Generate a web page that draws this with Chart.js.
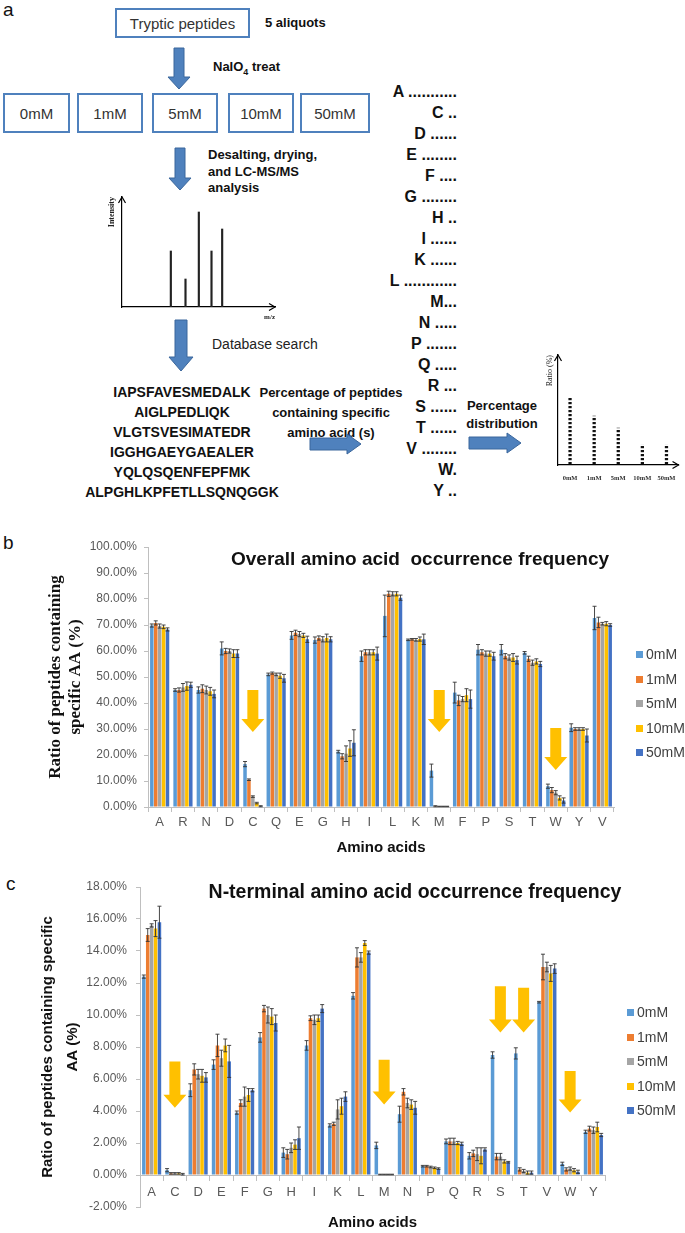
<!DOCTYPE html>
<html>
<head>
<meta charset="utf-8">
<script src="https://cdn.jsdelivr.net/npm/chart.js@4.4.0/dist/chart.umd.min.js"></script>
<style>
  html, body { margin: 0; padding: 0; background: #fff; }
  #page { position: relative; width: 685px; height: 1233px; overflow: hidden; font-family: 'Liberation Sans', Arial, sans-serif; color: #111; }
  .abs { position: absolute; white-space: pre; }
  .box { position: absolute; box-sizing: border-box; border: 2px solid #4f81bd; display: flex; align-items: center; justify-content: center; font-size: 15px; color: #333; }
  .b13 { font-size: 13px; font-weight: bold; }
  canvas { position: absolute; }
  .leg { position: absolute; font-size: 14px; color: #404040; line-height: 16px; }
  .leg i { display: inline-block; width: 7px; height: 7px; margin-right: 3px; vertical-align: 1px; }
</style>
</head>
<body>
<div id="page">

  <!-- panel a : workflow -->
  <div class="abs" style="left:3px;top:-1px;font-size:19px;">a</div>
  <div class="box" style="left:115px;top:8px;width:135px;height:30px;">Tryptic peptides</div>
  <div class="abs b13" style="left:265px;top:15px;">5 aliquots</div>
  <div class="abs b13" style="left:213px;top:59px;">NaIO<sub style="font-size:9px">4</sub> treat</div>

  <div class="box" style="left:3px;top:93px;width:67px;height:40px;">0mM</div>
  <div class="box" style="left:77px;top:93px;width:66px;height:40px;">1mM</div>
  <div class="box" style="left:152px;top:93px;width:66px;height:40px;">5mM</div>
  <div class="box" style="left:228px;top:93px;width:66px;height:40px;">10mM</div>
  <div class="box" style="left:300px;top:93px;width:70px;height:40px;">50mM</div>

  <div class="abs b13" style="left:208px;top:147px;line-height:16.5px;">Desalting, drying,
and LC-MS/MS
analysis</div>
  <div class="abs" style="left:212px;top:336px;font-size:14px;color:#222;">Database search</div>

  <div class="abs" style="left:82px;top:382px;width:200px;text-align:center;font-size:14px;font-weight:bold;line-height:20px;">IAPSFAVESMEDALK
AIGLPEDLIQK
VLGTSVESIMATEDR
IGGHGAEYGAEALER
YQLQSQENFEPFMK
ALPGHLKPFETLLSQNQGGK</div>

  <div class="abs b13" style="left:251px;top:383px;width:160px;text-align:center;line-height:20px;">Percentage of peptides
containing specific
amino acid (s)</div>

  <div class="abs" id="aaList" style="left:347px;top:81px;width:110px;text-align:right;font-size:16px;font-weight:bold;line-height:21px;"></div>

  <div class="abs b13" style="left:452px;top:397px;width:100px;text-align:center;line-height:18px;">Percentage
distribution</div>

  <svg class="abs" width="685" height="500" style="left:0;top:0;">
    <g fill="#4f81bd" stroke="#3b679c" stroke-width="1">
      <polygon points="174,48 184,48 184,77 190,77 179,89 168,77 174,77"/>
      <polygon points="175,148 185,148 185,178 191,178 180,190 169,178 175,178"/>
      <polygon points="175,320 187,320 187,357 193,357 181,371 169,357 175,357"/>
      <polygon points="310,438 347,438 347,434 361,444 347,454 347,450 310,450"/>
      <polygon points="469,437 507,437 507,433 521,443 507,453 507,449 469,449"/>
    </g>
  </svg>

  <canvas id="spectrum" width="185" height="135" style="left:100px;top:190px;"></canvas>
  <canvas id="distrib" width="145" height="140" style="left:540px;top:350px;"></canvas>

  <!-- panel b -->
  <div class="abs" style="left:3px;top:532px;font-size:19px;">b</div>
  <canvas id="chartB" width="685" height="365" style="left:0;top:500px;"></canvas>
  <div class="abs" style="left:170px;top:548px;width:500px;text-align:center;font-size:19px;font-weight:bold;">Overall amino acid  occurrence frequency</div>
  <div class="leg" id="legB" style="left:636px;top:646px;"></div>

  <!-- panel c -->
  <div class="abs" style="left:6px;top:873px;font-size:19px;">c</div>
  <canvas id="chartC" width="685" height="368" style="left:0;top:865px;"></canvas>
  <div class="abs" style="left:165px;top:880px;width:500px;text-align:center;font-size:19.5px;font-weight:bold;">N-terminal amino acid occurrence frequency</div>
  <div class="leg" id="legC" style="left:627px;top:1004px;"></div>
</div>

<script>
// ---- data ----
var concLabels = ['0mM', '1mM', '5mM', '10mM', '50mM'];
var seriesColors = ['#5b9bd5', '#ed7d31', '#a5a5a5', '#ffc000', '#4472c4'];

// panel a schematic
var aaDots = ['A ...........', 'C ..', 'D ......', 'E ........', 'F ....', 'G ........', 'H ..', 'I ......',
  'K ......', 'L ............', 'M...', 'N .....', 'P .......', 'Q .....', 'R ...', 'S ......', 'T ......',
  'V ........', 'W.', 'Y ..'];
var specMz = [35, 57, 77, 96, 112];
var specIntensity = [56, 28, 95, 56, 78];
var distribValues = [67, 49, 37, 20, 20];

// panel b : overall occurrence (%)
var overallAA = ['A', 'R', 'N', 'D', 'C', 'Q', 'E', 'G', 'H', 'I', 'L', 'K', 'M', 'F', 'P', 'S', 'T', 'W', 'Y', 'V'];
var overall0  = [69.8, 45.0, 45.0, 61.0, 16.5, 51.0, 66.0, 64.2, 21.3, 58.0, 73.5, 64.3, 14.0, 44.0, 60.5, 60.5, 59.3, 8.0, 30.5, 72.7];
var overall1  = [70.8, 45.0, 45.5, 60.0, 10.5, 51.5, 67.0, 65.0, 19.5, 59.5, 82.0, 64.5, 0.3, 41.0, 59.5, 58.0, 57.0, 6.5, 30.0, 71.0];
var overall5  = [69.6, 46.0, 45.0, 60.0, 4.0, 51.0, 66.5, 64.5, 20.5, 59.5, 82.0, 64.3, 0.2, 41.5, 59.0, 57.5, 55.5, 5.5, 30.0, 70.5];
var overall10 = [69.3, 46.5, 44.5, 59.0, 1.5, 50.5, 66.0, 65.0, 22.5, 59.5, 82.0, 64.6, 0.2, 43.0, 59.0, 57.5, 56.0, 3.5, 30.0, 70.5];
var overall50 = [68.3, 47.0, 43.5, 59.0, 0.3, 49.5, 64.5, 64.5, 24.7, 59.0, 80.5, 64.5, 0.2, 41.5, 58.0, 56.5, 55.0, 2.5, 27.5, 70.0];
var overallErr0  = [0.6, 0.5, 1.2, 2.5, 1.0, 0.5, 1.5, 1.2, 0.5, 2.0, 8.0, 0.3, 2.5, 4.0, 2.0, 2.0, 0.5, 0.8, 1.5, 4.5];
var overallErr1  = [0.8, 0.8, 1.5, 1.0, 0.3, 0.4, 1.0, 0.8, 1.0, 1.0, 1.0, 0.3, 0.2, 2.0, 1.0, 1.0, 1.0, 1.0, 0.5, 2.0];
var overallErr5  = [0.8, 1.5, 1.5, 0.8, 0.3, 0.5, 1.0, 1.0, 3.0, 1.0, 0.8, 0.5, 0.1, 1.0, 1.0, 1.0, 1.0, 0.8, 0.5, 0.5];
var overallErr10 = [0.7, 1.6, 1.5, 1.5, 0.3, 1.0, 0.8, 1.5, 3.0, 1.0, 0.8, 0.8, 0.1, 2.5, 1.0, 1.5, 1.0, 0.8, 0.5, 0.8];
var overallErr50 = [0.6, 1.0, 1.5, 1.5, 0.2, 1.5, 1.2, 1.0, 5.0, 2.5, 1.0, 2.0, 0.1, 3.5, 1.5, 1.5, 1.0, 1.0, 2.5, 0.5];
// highlighted drops: [amino acid, arrow top %, arrow tip %]
var overallMarks = [['C', 45, 28.8], ['M', 45, 28.8], ['W', 30.4, 14.2]];

// panel c : N-terminal occurrence (%)
var ntermAA = ['A', 'C', 'D', 'E', 'F', 'G', 'H', 'I', 'K', 'L', 'M', 'N', 'P', 'Q', 'R', 'S', 'T', 'V', 'W', 'Y'];
var nterm0  = [12.4, 0.30, 5.3, 6.9, 3.9, 8.6, 1.4, 8.1, 3.1, 11.2, 1.85, 3.8, 0.55, 2.1, 1.2, 7.5, 7.6, 10.8, 0.7, 2.7];
var nterm1  = [15.0, 0.10, 6.6, 8.1, 4.5, 10.4, 1.3, 9.8, 3.2, 13.6, 0.03, 5.2, 0.55, 2.1, 1.35, 1.15, 0.35, 13.0, 0.35, 2.9];
var nterm5  = [15.6, 0.10, 6.3, 7.3, 4.9, 10.0, 1.7, 9.7, 4.1, 13.6, 0.03, 4.5, 0.50, 2.1, 1.3, 1.15, 0.25, 13.0, 0.40, 2.8];
var nterm10 = [15.4, 0.10, 6.2, 8.1, 5.0, 9.9, 1.9, 9.8, 4.3, 14.5, 0.03, 4.4, 0.45, 2.0, 1.2, 0.85, 0.15, 12.6, 0.30, 3.0];
var nterm50 = [15.8, 0.05, 6.1, 7.1, 5.3, 9.5, 2.3, 10.4, 4.9, 13.9, 0.03, 4.2, 0.40, 1.95, 1.6, 0.80, 0.15, 12.9, 0.20, 2.5];
var ntermErr0  = [0.1, 0.1, 0.4, 0.3, 0.1, 0.3, 0.3, 0.3, 0.1, 0.2, 0.2, 0.5, 0.05, 0.15, 0.2, 0.2, 0.35, 0.05, 0.1, 0.1];
var ntermErr1  = [0.4, 0.05, 0.35, 0.7, 0.2, 0.2, 0.3, 0.15, 0.1, 0.6, 0.02, 0.2, 0.05, 0.2, 0.2, 0.2, 0.1, 0.8, 0.1, 0.15];
var ntermErr5  = [0.1, 0.05, 0.3, 0.5, 0.6, 0.5, 0.3, 0.3, 0.6, 0.3, 0.02, 0.3, 0.05, 0.2, 0.4, 0.2, 0.1, 0.3, 0.1, 0.2];
var ntermErr10 = [0.5, 0.05, 0.4, 0.4, 0.4, 0.5, 0.3, 0.2, 0.5, 0.15, 0.02, 0.3, 0.05, 0.1, 0.5, 0.1, 0.1, 0.5, 0.1, 0.3];
var ntermErr50 = [1.0, 0.05, 0.3, 1.0, 0.1, 0.5, 0.7, 0.25, 0.3, 0.1, 0.02, 0.4, 0.05, 0.1, 0.1, 0.05, 0.1, 0.3, 0.1, 0.1];
var ntermMarks = [['C', 7.1, 4.2], ['M', 7.2, 4.4], ['S', 11.8, 8.9], ['T', 11.7, 8.9], ['W', 6.5, 3.9]];

Chart.defaults.font.family = "'Liberation Sans', Arial, sans-serif";
Chart.defaults.animation = false;

// amino acid list in panel a
document.getElementById('aaList').textContent = aaDots.join('\n');

// legends
['legB', 'legC'].forEach(function (id) {
    var html = '';
    concLabels.forEach(function (c, i) {
        html += '<div style="height:24.5px"><i style="background:' + seriesColors[i] + '"></i>' + c + '</div>';
    });
    document.getElementById(id).innerHTML = html;
});

// error bars
var errorBars = {
    id: 'errorBars',
    afterDatasetsDraw: function (chart) {
        var ctx = chart.ctx, y = chart.scales.y;
        ctx.save();
        ctx.strokeStyle = '#333';
        ctx.lineWidth = 0.9;
        chart.data.datasets.forEach(function (ds, i) {
            chart.getDatasetMeta(i).data.forEach(function (bar, j) {
                var v = ds.data[j], e = ds.errors[j];
                var top = y.getPixelForValue(v + e), bot = y.getPixelForValue(v - e);
                ctx.beginPath();
                ctx.moveTo(bar.x, top); ctx.lineTo(bar.x, bot);
                ctx.moveTo(bar.x - 2, top); ctx.lineTo(bar.x + 2, top);
                ctx.moveTo(bar.x - 2, bot); ctx.lineTo(bar.x + 2, bot);
                ctx.stroke();
            });
        });
        ctx.restore();
    }
};

// yellow arrows pointing at the drops
function dropArrows(marks) {
    return {
        id: 'dropArrows',
        afterDatasetsDraw: function (chart) {
            var ctx = chart.ctx, x = chart.scales.x, y = chart.scales.y;
            ctx.save();
            ctx.fillStyle = '#ffc000';
            marks.forEach(function (m) {
                var cx = x.getPixelForValue(chart.data.labels.indexOf(m[0]));
                var t = y.getPixelForValue(m[1]), b = y.getPixelForValue(m[2]);
                var w = 5.5, hw = 11.5, hl = 13;
                ctx.beginPath();
                ctx.moveTo(cx - w, t); ctx.lineTo(cx + w, t); ctx.lineTo(cx + w, b - hl);
                ctx.lineTo(cx + hw, b - hl); ctx.lineTo(cx, b); ctx.lineTo(cx - hw, b - hl);
                ctx.lineTo(cx - w, b - hl); ctx.closePath();
                ctx.fill();
            });
            ctx.restore();
        }
    };
}

function makeSets(values, errors) {
    return values.map(function (v, i) {
        return {
            label: concLabels[i],
            data: v,
            errors: errors[i],
            backgroundColor: seriesColors[i],
            categoryPercentage: 0.84,
            barPercentage: 0.9
        };
    });
}

var tickFont = { size: 12 };
var gray = '#595959';

// Panel b
new Chart(document.getElementById('chartB'), {
    type: 'bar',
    data: {
        labels: overallAA,
        datasets: makeSets([overall0, overall1, overall5, overall10, overall50],
            [overallErr0, overallErr1, overallErr5, overallErr10, overallErr50])
    },
    options: {
        responsive: false,
        layout: { padding: { top: 47, right: 71, left: 0, bottom: 0 } },
        plugins: { legend: { display: false }, tooltip: { enabled: false } },
        scales: {
            x: {
                grid: { drawOnChartArea: false, tickLength: 5, color: '#bfbfbf' },
                border: { color: '#bfbfbf' },
                ticks: { font: { size: 13 }, color: gray, padding: 3 },
                title: { display: true, text: 'Amino acids', color: '#111', font: { size: 15, weight: 'bold' }, padding: { top: 0, bottom: 8 } },
                afterFit: function (s) { s.height = 58; }
            },
            y: {
                min: 0, max: 100,
                grid: { drawOnChartArea: false, tickLength: 4, color: '#bfbfbf' },
                border: { color: '#bfbfbf' },
                ticks: { stepSize: 10, font: tickFont, color: gray, padding: 7,
                    callback: function (v) { return v.toFixed(2) + '%'; } },
                title: { display: true, text: ['Ratio of peptides containing', 'specific AA (%)'], color: '#111',
                    font: { family: "'Liberation Serif', 'Times New Roman', serif", size: 17, weight: 'bold', lineHeight: 1.2 },
                    padding: { top: 45, bottom: 0 } },
                afterFit: function (s) { s.width = 148; }
            }
        }
    },
    plugins: [errorBars, dropArrows(overallMarks)]
});

// Panel c
new Chart(document.getElementById('chartC'), {
    type: 'bar',
    data: {
        labels: ntermAA,
        datasets: makeSets([nterm0, nterm1, nterm5, nterm10, nterm50],
            [ntermErr0, ntermErr1, ntermErr5, ntermErr10, ntermErr50])
    },
    options: {
        responsive: false,
        layout: { padding: { top: 22, right: 80, left: 0, bottom: 0 } },
        plugins: { legend: { display: false }, tooltip: { enabled: false } },
        scales: {
            x: {
                position: { y: 0 },
                grid: { drawOnChartArea: false, tickLength: 5, color: '#bfbfbf' },
                border: { color: '#bfbfbf' },
                ticks: { font: { size: 13 }, color: gray, padding: 5 }
            },
            x2: {
                axis: 'x', type: 'category', position: 'bottom', labels: ntermAA,
                grid: { display: false, drawTicks: false },
                border: { display: false },
                ticks: { display: false },
                title: { display: true, text: 'Amino acids', color: '#111', font: { size: 15, weight: 'bold' }, padding: { top: 0, bottom: 1 } },
                afterFit: function (s) { s.height = 26; }
            },
            y: {
                min: -2, max: 18,
                grid: { drawOnChartArea: false, tickLength: 4, color: '#bfbfbf' },
                border: { color: '#bfbfbf' },
                ticks: { stepSize: 2, font: tickFont, color: gray, padding: 9,
                    callback: function (v) { return v.toFixed(2) + '%'; } },
                title: { display: true, text: ['Ratio of peptides containing specific', 'AA (%)'], color: '#111',
                    font: { size: 15, weight: 'bold', lineHeight: '25px' },
                    padding: { top: 35.5, bottom: 0 } },
                afterFit: function (s) { s.width = 140; }
            }
        }
    },
    plugins: [errorBars, dropArrows(ntermMarks)]
});

// arrow heads on the little schematic axes
var axisHeads = {
    id: 'axisHeads',
    afterDraw: function (chart) {
        var a = chart.chartArea, ctx = chart.ctx;
        ctx.save();
        ctx.strokeStyle = '#000';
        ctx.lineWidth = 1.2;
        ctx.beginPath();
        ctx.moveTo(a.left - 3.5, a.top + 6); ctx.lineTo(a.left, a.top); ctx.lineTo(a.left + 3.5, a.top + 6);
        ctx.moveTo(a.right - 6, a.bottom - 3.5); ctx.lineTo(a.right, a.bottom); ctx.lineTo(a.right - 6, a.bottom + 3.5);
        ctx.stroke();
        ctx.restore();
    }
};
var serif = "'Liberation Serif', 'Times New Roman', serif";

// MS spectrum sketch
new Chart(document.getElementById('spectrum'), {
    type: 'bar',
    data: {
        datasets: [{
            data: specMz.map(function (m, i) { return { x: m, y: specIntensity[i] }; }),
            backgroundColor: '#222',
            barThickness: 1.5
        }]
    },
    options: {
        responsive: false,
        layout: { padding: { top: 7, right: 10, left: 0, bottom: 0 } },
        plugins: { legend: { display: false }, tooltip: { enabled: false } },
        scales: {
            x: {
                type: 'linear', min: 0, max: 153,
                grid: { display: false, drawTicks: false },
                border: { color: '#000', width: 1.2 },
                ticks: { display: false },
                title: { display: true, text: 'm/z', align: 'end', color: '#222', font: { family: serif, size: 7, weight: 'bold' }, padding: { top: 0, bottom: 4 } },
                afterFit: function (s) { s.height = 18; }
            },
            y: {
                min: 0, max: 110,
                grid: { display: false, drawTicks: false },
                border: { color: '#000', width: 1.2 },
                ticks: { display: false },
                title: { display: true, text: 'Intensity', align: 'end', color: '#222', font: { family: serif, size: 8, weight: 'bold' }, padding: { top: 7, bottom: 0 } },
                afterFit: function (s) { s.width = 22; }
            }
        }
    },
    plugins: [axisHeads]
});

// percentage distribution sketch (dotted bars)
var dotCanvas = document.createElement('canvas');
dotCanvas.width = 3; dotCanvas.height = 4;
var dctx = dotCanvas.getContext('2d');
dctx.fillStyle = '#111';
dctx.fillRect(0, 0, 3, 2.2);
var dotPattern = dctx.createPattern(dotCanvas, 'repeat');

new Chart(document.getElementById('distrib'), {
    type: 'bar',
    data: {
        labels: concLabels,
        datasets: [{ data: distribValues, backgroundColor: dotPattern, barThickness: 2.6 }]
    },
    options: {
        responsive: false,
        layout: { padding: { top: 5, right: 5, left: 0, bottom: 0 } },
        plugins: { legend: { display: false }, tooltip: { enabled: false } },
        scales: {
            x: {
                grid: { display: false, drawTicks: false },
                border: { color: '#000', width: 1.2 },
                ticks: { font: { family: serif, size: 6.5, weight: 'bold' }, color: '#333', padding: 9 },
                afterFit: function (s) { s.height = 25; }
            },
            y: {
                min: 0, max: 110,
                grid: { display: false, drawTicks: false },
                border: { color: '#000', width: 1.2 },
                ticks: { display: false },
                title: { display: true, text: 'Ratio (%)', align: 'end', color: '#222', font: { family: serif, size: 8 }, padding: { top: 5, bottom: 0 } },
                afterFit: function (s) { s.width = 18; }
            }
        }
    },
    plugins: [axisHeads]
});
</script>
</body>
</html>
